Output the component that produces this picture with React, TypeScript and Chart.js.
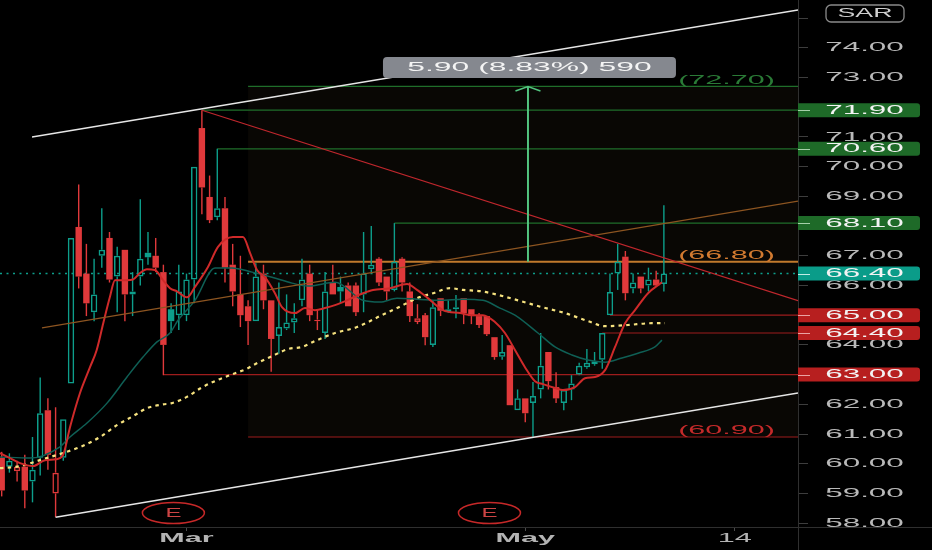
import React, { useEffect, useRef } from 'react';
import { Chart, registerables } from 'chart.js';

Chart.register(...registerables);

// ---------------- Candles (one per trading day, index 0..86) ----------------
const opens = [60.2, 59.9, 59.75, 59.9, 59.4, 60.2, 61.8, 59.0, 60.2, 62.7,
  67.97, 66.4, 65.1, 67.0, 67.6, 66.3, 67.2, 65.7, 66.3, 67.1,
  67.0, 66.45, 65.2, 65.0, 65.0, 66.2, 71.3, 68.98, 68.3, 68.6,
  66.7, 65.7, 65.3, 64.8, 66.4, 65.5, 64.3, 64.55, 64.75, 65.5,
  66.4, 64.8, 64.4, 66.1, 65.95, 66.0, 66.0, 65.7, 66.55, 66.9,
  66.3, 65.85, 66.9, 65.8, 64.77, 65.0, 64.0, 65.57, 65.1, 65.2,
  65.57, 65.2, 64.97, 64.97, 64.26, 63.6, 63.99, 61.8, 62.2, 62.04,
  62.5, 63.76, 62.58, 62.04, 62.5, 63.0, 63.25, 63.35, 63.5, 65.0,
  66.4, 66.97, 65.9, 66.3, 66.0, 66.2, 66.05];
const highs = [60.4, 60.35, 60.1, 60.3, 60.9, 62.9, 62.2, 61.9, 61.5, 67.6,
  69.4, 67.4, 66.9, 68.6, 67.8, 67.3, 67.2, 66.45, 68.9, 67.8,
  67.6, 66.7, 65.4, 66.7, 66.4, 70.0, 71.9, 69.7, 70.6, 68.98,
  67.4, 67.0, 65.5, 66.75, 66.7, 65.5, 66.1, 65.7, 65.4, 66.9,
  66.7, 65.2, 66.45, 66.7, 66.3, 66.1, 66.1, 67.8, 68.0, 66.95,
  66.3, 68.1, 66.95, 66.1, 65.37, 65.07, 65.5, 65.57, 65.5, 65.68,
  65.57, 65.2, 65.07, 64.97, 64.26, 64.33, 63.99, 62.5, 62.2, 62.75,
  64.4, 63.76, 63.08, 62.48, 62.98, 63.4, 63.86, 63.76, 64.4, 66.4,
  67.4, 67.16, 66.4, 66.3, 66.6, 66.5, 68.7];
const lows = [58.9, 59.7, 59.4, 58.5, 58.7, 59.6, 59.8, 58.2, 60.1, 62.7,
  65.9, 64.97, 64.8, 66.6, 66.1, 65.1, 64.8, 64.97, 66.0, 66.7,
  66.45, 62.98, 64.4, 64.5, 64.8, 65.4, 68.4, 68.1, 68.2, 66.1,
  65.3, 64.6, 64.0, 64.8, 65.2, 63.1, 63.7, 64.5, 64.4, 65.3,
  64.8, 64.5, 64.2, 65.7, 65.4, 65.3, 64.97, 65.1, 66.45, 65.98,
  65.5, 65.8, 65.8, 64.77, 64.7, 63.99, 63.93, 64.97, 65.07, 64.9,
  64.7, 64.7, 64.57, 64.3, 63.5, 63.5, 61.97, 61.8, 61.4, 60.9,
  62.2, 62.5, 62.04, 61.8, 62.14, 62.98, 63.2, 63.3, 63.2, 65.0,
  65.85, 65.5, 65.74, 65.74, 65.8, 65.95, 65.8];
const closes = [59.1, 60.1, 59.9, 59.1, 59.8, 61.7, 60.3, 59.7, 61.5, 67.6,
  66.3, 65.4, 65.7, 67.2, 66.2, 67.0, 65.7, 65.8, 66.9, 66.95,
  66.6, 64.0, 64.8, 65.8, 66.2, 70.0, 69.3, 68.2, 68.6, 66.6,
  65.8, 65.0, 64.8, 66.3, 65.5, 64.2, 64.6, 64.75, 64.9, 66.2,
  65.0, 64.85, 65.8, 65.7, 65.8, 65.3, 65.1, 66.4, 66.7, 66.1,
  65.8, 66.8, 66.1, 64.97, 64.9, 64.26, 65.27, 65.15, 65.2, 65.27,
  65.07, 64.97, 64.67, 64.36, 63.59, 63.76, 61.97, 62.2, 61.7, 62.28,
  63.3, 62.78, 62.2, 62.48, 62.7, 63.3, 63.4, 63.45, 64.4, 65.78,
  66.8, 65.74, 66.1, 65.9, 66.2, 66.0, 66.4];

// ---------------- Indicators: [bar index, price] ----------------
const emaFast = [[-0.22, 60.36], [1.08, 60.19], [2.38, 60.02], [4.06, 59.92], [5.62, 60.12], [7.05, 60.15], [7.96, 60.29], [8.87, 61.23], [10.17, 62.38], [11.47, 63.25], [12.34, 63.83], [13.19, 64.73], [14.06, 65.62], [14.71, 66.18], [16.27, 66.18], [17.05, 66.2], [17.96, 66.42], [18.87, 66.55], [19.91, 66.52], [20.95, 66.18], [21.86, 65.91], [22.77, 65.8], [24.06, 65.6], [25.1, 65.95], [26.79, 66.62], [28.09, 67.3], [30.04, 67.63], [31.34, 67.63], [32.25, 67.1], [33.16, 66.52], [34.19, 66.28], [35.49, 65.74], [36.4, 65.27], [38.09, 65.07], [39.39, 65.24], [40.69, 65.17], [41.99, 65.24], [43.29, 65.34], [44.84, 65.5], [46.92, 65.74], [48.22, 65.85], [50.43, 65.91], [52.64, 66.05], [53.94, 65.85], [55.23, 65.6], [57.31, 65.17], [59.52, 65.07], [61.21, 65.0], [62.5, 65.0], [64.06, 64.77], [65.36, 64.4], [66.66, 63.83], [67.96, 63.25], [69.26, 62.78], [70.3, 62.68], [71.86, 62.55], [72.9, 62.48], [74.46, 62.58], [75.76, 62.88], [77.06, 62.92], [78.36, 63.15], [79.66, 63.93], [80.96, 64.73], [82.25, 65.17], [83.94, 65.74], [85.75, 66.11]];
const emaSlow = [[-0.22, 60.23], [3.68, 60.19], [7.57, 60.57], [8.87, 60.9], [11.08, 61.37], [13.68, 62.04], [16.27, 62.92], [18.35, 63.59], [20.17, 64.1], [21.86, 64.4], [22.9, 64.83], [25.1, 65.5], [27.7, 66.59], [29.9, 66.59], [32.51, 66.45], [35.1, 66.28], [37.7, 66.08], [39.79, 65.98], [43.29, 66.11], [46.92, 65.5], [49.13, 65.44], [51.34, 65.57], [53.94, 65.54], [56.92, 65.5], [59.91, 65.54], [62.5, 65.5], [64.71, 65.24], [66.66, 65.0], [69.65, 64.4], [71.86, 63.93], [74.06, 63.66], [76.14, 63.49], [78.36, 63.42], [80.56, 63.56], [82.64, 63.72], [84.84, 63.93], [85.75, 64.16]];
const smaLong = [[-0.22, 59.85], [2.38, 59.92], [4.97, 60.12], [7.96, 60.36], [10.17, 60.56], [12.77, 60.9], [14.97, 61.3], [17.05, 61.6], [18.87, 61.87], [20.95, 62.0], [21.99, 62.03], [24.06, 62.25], [26.01, 62.57], [27.96, 62.81], [30.04, 63.02], [31.86, 63.2], [32.9, 63.35], [35.1, 63.62], [37.18, 63.86], [39.0, 63.93], [40.69, 64.13], [43.29, 64.4], [46.14, 64.6], [49.13, 64.97], [51.34, 65.24], [53.94, 65.57], [56.03, 65.74], [58.23, 65.91], [59.91, 65.85], [62.12, 65.81], [64.06, 65.71], [67.05, 65.5], [70.17, 65.27], [73.16, 65.07], [76.14, 64.8], [78.36, 64.63], [81.34, 64.67], [84.45, 64.73], [86.14, 64.73]];

// ---------------- Drawings ----------------
const channelUpper = [[3.94, 71.0], [103.42, 75.27]];
const channelLower = [[7, 58.2], [103.42, 62.38]];
const resistanceLine = [[26, 71.9], [103.42, 65.49]];
const supportLine = [[5.23, 64.57], [103.42, 68.84]];
const greenLevelPrices = [72.7, 71.9, 70.6, 68.1];
const greenLevelStarts = [32, 26, 28, 51];
const redLevelPrices = [65.0, 64.4, 63.0, 60.9];
const redLevelStarts = [79, 78, 21, 32];
const pivotPrice = 66.8;
const pivotStart = 32;
const rangeTop = 72.7;
const rangeBottom = 60.9;
const rangeStart = 32;
const lastPrice = 66.4;
const measureIdx = 68.35;
const measureFrom = 66.8;
const measureTo = 72.7;
const measureText = '5.90 (8.83%) 590';
const tagTexts = ['(72.70)', '(66.80)', '(60.90)'];
const tagPrices = [72.7, 66.8, 60.9];
const tagColors = ['#2a7a36', '#d27a30', '#c42a2a'];
const tagIdx = 100.43;
const earningsIdx = [22.3, 63.35];

// ---------------- Axes ----------------
const xMin = -0.22;
const xMax = 103.42;
const yMin = 57.87;
const yMax = 75.61;
const priceTicks = [75, 74, 73, 71, 70, 69, 67, 66, 64, 62, 61, 60, 59, 58];
const priceTickLabels = ['75.00', '74.00', '73.00', '71.00', '70.00', '69.00', '67.00', '66.00', '64.00', '62.00', '61.00', '60.00', '59.00', '58.00'];
const boxPrices = [71.9, 70.6, 68.1, 66.4, 65.0, 64.4, 63.0];
const boxTexts = ['71.90', '70.60', '68.10', '66.40', '65.00', '64.40', '63.00'];
const boxKinds = ['g', 'g', 'g', 't', 'r', 'r', 'r'];
const timeTicks = [24, 68, 95.2];
const timeTickLabels = ['Mar', 'May', '14'];
const timeTickBold = [true, true, false];

// ---------------- Colours ----------------
const GREEN = '#0d9e8b';
const RED = '#e0393b';
const BOX_STYLE: Record<string, { fill: string; tick: string }> = {
  g: { fill: '#1e6a28', tick: '#a5d0a9' },
  t: { fill: '#0a9c89', tick: '#c2ece5' },
  r: { fill: '#b71f1f', tick: '#eaa4a4' },
};

const idx = opens.map((_, i) => i);
const candleUp = closes.map((c, i) => (i === 0 ? c >= opens[i] : c >= closes[i - 1]));
const candleHollow = closes.map((c, i) => c > opens[i]);
const candleColor = candleUp.map((u) => (u ? GREEN : RED));

const pts = (arr: number[][]) => arr.map(([x, y]) => ({ x, y }));

const lineDs = (data: number[][], color: string, width: number, order: number, extra: any = {}) => ({
  type: 'line',
  data: pts(data),
  borderColor: color,
  borderWidth: width,
  pointRadius: 0,
  fill: false,
  tension: 0,
  order,
  ...extra,
});

const FONT = '"Liberation Sans", Arial, sans-serif';

function stretchText(ctx: CanvasRenderingContext2D, text: string, x: number, y: number, font: string, color: string, sx: number, align: CanvasTextAlign = 'center') {
  ctx.save();
  ctx.font = font;
  ctx.fillStyle = color;
  ctx.textAlign = align;
  ctx.textBaseline = 'middle';
  ctx.translate(x, y);
  ctx.scale(sx, 1);
  ctx.fillText(text, 0, 0);
  ctx.restore();
}

const overlayPlugin = {
  id: 'tvOverlay',
  beforeDraw(chart: any) {
    const { ctx, width, height } = chart;
    ctx.save();
    ctx.fillStyle = '#000';
    ctx.fillRect(0, 0, width, height);
    ctx.restore();
  },
  afterDatasetsDraw(chart: any) {
    const ctx: CanvasRenderingContext2D = chart.ctx;
    const xs = chart.scales.x;
    const ys = chart.scales.y;
    // arrow head
    const ax = xs.getPixelForValue(measureIdx);
    const ayTop = ys.getPixelForValue(measureTo);
    ctx.save();
    ctx.strokeStyle = '#52c47f';
    ctx.lineWidth = 1.5;
    ctx.beginPath();
    ctx.moveTo(ax - 12.5, ayTop + 4.5);
    ctx.lineTo(ax, ayTop);
    ctx.lineTo(ax + 12.5, ayTop + 4.5);
    ctx.stroke();
    // measure label
    const bw = 293;
    const bh = 21;
    const bcx = ax + 1.5;
    const bBottom = ayTop - 8.5;
    ctx.fillStyle = '#85888f';
    ctx.beginPath();
    (ctx as any).roundRect(bcx - bw / 2, bBottom - bh, bw, bh, 4);
    ctx.fill();
    ctx.restore();
    stretchText(ctx, measureText, bcx, bBottom - bh / 2, `13px ${FONT}`, '#f4f4f4', 2.45);
    // level tags
    tagTexts.forEach((t, i) => {
      const tx = xs.getPixelForValue(tagIdx);
      const ty = ys.getPixelForValue(tagPrices[i]) - 6.5;
      stretchText(ctx, t, tx, ty, `13px ${FONT}`, tagColors[i], 2.35, 'right');
    });
    // earnings markers
    earningsIdx.forEach((e) => {
      const cx = xs.getPixelForValue(e);
      const cy = chart.chartArea.bottom - 14;
      ctx.save();
      ctx.strokeStyle = '#c62828';
      ctx.lineWidth = 1.5;
      ctx.beginPath();
      ctx.ellipse(cx, cy, 31, 10.5, 0, 0, Math.PI * 2);
      ctx.stroke();
      ctx.restore();
      stretchText(ctx, 'E', cx, cy + 0.5, `12px ${FONT}`, '#cc4444', 2.0);
    });
  },
  afterDraw(chart: any) {
    const ctx: CanvasRenderingContext2D = chart.ctx;
    const xs = chart.scales.x;
    const ys = chart.scales.y;
    const { right, bottom } = chart.chartArea;
    const W = chart.width;
    const H = chart.height;
    // axis frame lines
    ctx.save();
    ctx.strokeStyle = '#2f2f2f';
    ctx.lineWidth = 1;
    ctx.beginPath();
    ctx.moveTo(right + 0.5, 0);
    ctx.lineTo(right + 0.5, H);
    ctx.moveTo(0, bottom + 0.5);
    ctx.lineTo(W, bottom + 0.5);
    ctx.stroke();
    ctx.restore();
    // price tick labels
    const labelX = right + 66.5;
    ys.ticks.forEach((t: any, i: number) => {
      const y = ys.getPixelForValue(t.value);
      stretchText(ctx, priceTickLabels[i], labelX, y, `13px ${FONT}`, '#b9b9b9', 2.42);
    });
    // highlighted price boxes
    boxPrices.forEach((p, i) => {
      const y = ys.getPixelForValue(p);
      const st = BOX_STYLE[boxKinds[i]];
      ctx.save();
      ctx.fillStyle = st.fill;
      ctx.beginPath();
      (ctx as any).roundRect(right, y - 7, 122, 14, [0, 3, 3, 0]);
      ctx.fill();
      ctx.strokeStyle = st.tick;
      ctx.lineWidth = 1;
      ctx.beginPath();
      ctx.moveTo(right, Math.round(y) + 0.5);
      ctx.lineTo(right + 12, Math.round(y) + 0.5);
      ctx.stroke();
      ctx.restore();
      stretchText(ctx, boxTexts[i], labelX, y, `13px ${FONT}`, '#f3f3f3', 2.42);
    });
    // currency box
    ctx.save();
    ctx.fillStyle = '#000';
    ctx.strokeStyle = '#8a8a8a';
    ctx.lineWidth = 1.3;
    ctx.beginPath();
    (ctx as any).roundRect(826, 5, 78, 17, 5);
    ctx.fill();
    ctx.stroke();
    ctx.restore();
    stretchText(ctx, 'SAR', 865, 13.8, `12.5px ${FONT}`, '#cfcfcf', 2.14);
    // time labels
    xs.ticks.forEach((t: any, i: number) => {
      const x = xs.getPixelForValue(t.value);
      stretchText(ctx, timeTickLabels[i], x, bottom + 12, `${timeTickBold[i] ? 'bold ' : ''}12px ${FONT}`, '#b3b3b3', 2.55);
    });
  },
};

export default function App() {
  const ref = useRef<HTMLCanvasElement>(null);
  useEffect(() => {
    document.body.style.margin = '0';
    document.body.style.background = '#000';
    const canvas = ref.current;
    if (!canvas) return;

    const upperWicks = idx.map((i) => ({ x: i, y: [Math.max(opens[i], closes[i]), highs[i]] }));
    const lowerWicks = idx.map((i) => ({ x: i, y: [lows[i], Math.min(opens[i], closes[i])] }));
    const bodies = idx.map((i) => ({ x: i, y: [opens[i], closes[i]] }));

    const barCommon = { grouped: false, borderSkipped: false, inflateAmount: 0 };

    const datasets: any[] = [
      // range shading (72.70 top filled to 60.90 bottom)
      lineDs([[rangeStart, rangeTop], [xMax, rangeTop]], '#1f6e2a', 1.2, 30, { fill: '+1', backgroundColor: 'rgba(40,32,20,0.22)' }),
      lineDs([[rangeStart, rangeBottom], [xMax, rangeBottom]], '#9e1c1c', 1.2, 29),
      ...greenLevelPrices.slice(1).map((p, i) => lineDs([[greenLevelStarts[i + 1], p], [xMax, p]], '#1f6e2a', 1.2, 28)),
      ...redLevelPrices.slice(0, 3).map((p, i) => lineDs([[redLevelStarts[i], p], [xMax, p]], '#9e1c1c', 1.2, 28)),
      lineDs([[pivotStart, pivotPrice], [xMax, pivotPrice]], '#c17a2c', 2, 27),
      lineDs([[xMin, lastPrice], [xMax, lastPrice]], '#0d9e8b', 1.5, 26, { borderDash: [2, 4.5] }),
      {
        type: 'bar', data: upperWicks, backgroundColor: candleColor, borderWidth: 0, barThickness: 1.4, order: 21, ...barCommon,
      },
      {
        type: 'bar', data: lowerWicks, backgroundColor: candleColor, borderWidth: 0, barThickness: 1.4, order: 21, ...barCommon,
      },
      {
        type: 'bar',
        data: bodies,
        backgroundColor: idx.map((i) => (candleHollow[i] ? 'rgba(0,0,0,0)' : candleColor[i])),
        borderColor: candleColor,
        borderWidth: idx.map((i) => (candleHollow[i] ? 1.5 : 0)),
        barThickness: 6.4,
        order: 20,
        ...barCommon,
      },
      lineDs(smaLong, '#f6e27f', 2.2, 12, { borderDash: [3.5, 4.2], cubicInterpolationMode: 'monotone' }),
      lineDs(emaSlow, '#0f5f55', 1.5, 11, { cubicInterpolationMode: 'monotone' }),
      lineDs(emaFast, '#cf2a2a', 2, 10, { cubicInterpolationMode: 'monotone' }),
      lineDs(supportLine, '#8d5521', 1.2, 6),
      lineDs(resistanceLine, '#c0272d', 1.2, 5),
      lineDs(channelUpper, '#e6e6e6', 1.5, 4),
      lineDs(channelLower, '#e6e6e6', 1.5, 4),
      lineDs([[measureIdx, measureFrom], [measureIdx, measureTo]], '#52c47f', 2, 3),
    ];

    const chart = new Chart(canvas, {
      type: 'bar',
      data: { datasets },
      options: {
        animation: false,
        responsive: false,
        devicePixelRatio: 1,
        events: [],
        layout: { padding: 0 },
        plugins: { legend: { display: false }, tooltip: { enabled: false }, title: { display: false } },
        scales: {
          x: {
            type: 'linear',
            position: 'bottom',
            min: xMin,
            max: xMax,
            offset: false,
            afterBuildTicks: (s: any) => { s.ticks = timeTicks.map((v) => ({ value: v })); },
            afterFit: (s: any) => { s.height = 23; },
            ticks: { display: false },
            grid: { display: true, offset: false, drawOnChartArea: false, drawTicks: true, tickLength: 4, color: '#4a4a4a' },
            border: { display: false },
          },
          y: {
            type: 'linear',
            position: 'right',
            min: yMin,
            max: yMax,
            beginAtZero: false,
            afterBuildTicks: (s: any) => { s.ticks = priceTicks.map((v) => ({ value: v })); },
            afterFit: (s: any) => { s.width = 134; },
            ticks: { display: false },
            grid: { display: true, drawOnChartArea: false, drawTicks: true, tickLength: 10, color: '#3d3d3d' },
            border: { display: false },
          },
        },
      } as any,
      plugins: [overlayPlugin],
    } as any);
    return () => chart.destroy();
  }, []);
  return (
    <div style={{ width: 932, height: 550, background: '#000' }}>
      <canvas ref={ref} width={932} height={550} style={{ display: 'block' }} />
    </div>
  );
}
